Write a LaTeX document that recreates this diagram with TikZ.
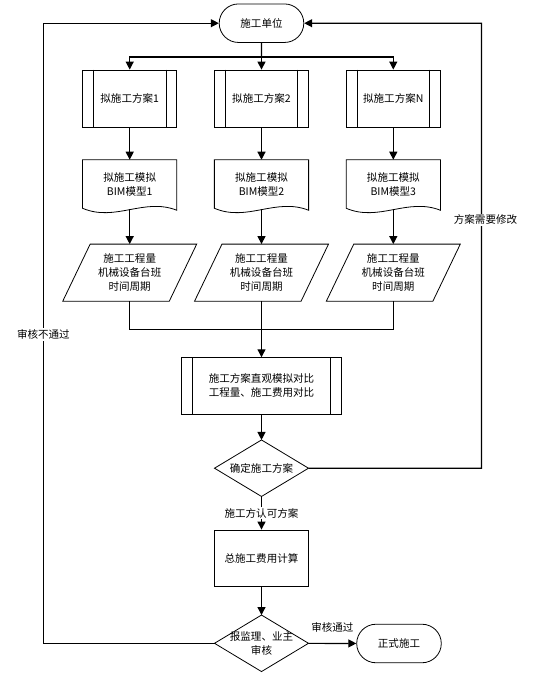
\documentclass[tikz,border=0pt]{standalone}
\usepackage{fontspec}
\setmainfont{Noto Sans CJK SC}
\usetikzlibrary{arrows.meta,shapes.misc}

\begin{document}
\begin{tikzpicture}[x=0.75pt,y=-0.75pt,
    every node/.style={font=\fontsize{7.9pt}{10.5pt}\selectfont, align=center},
    shape line/.style={line width=0.6pt},
    arr/.style={line width=0.9pt, -{Triangle[length=6pt,width=6pt]}},
    conn/.style={line width=0.9pt},
    term/.style={draw, shape line, rounded rectangle, minimum width=70.1pt, minimum height=28.9pt},
    proc/.style={draw, shape line, rectangle, minimum width=70.3pt, minimum height=42.75pt},
    docu/.style={rectangle, minimum width=70.3pt, minimum height=36.75pt},
    iobox/.style={rectangle, minimum width=100.1pt, minimum height=42.5pt},
    decide/.style={rectangle, minimum width=70.1pt, minimum height=42pt},
    lab/.style={fill=white, inner sep=1pt}]
    \useasboundingbox (0,0) rectangle (553,682);

            \node[term] (start) at (261.5,23.2) {施工单位};

            \node[proc] (p1) at (129.7,98.5) {拟施工方案1};
            \node[proc] (p2) at (261.5,98.5) {拟施工方案2};
            \node[proc] (p3) at (393.3,98.5) {拟施工方案N};

            \node[docu] (d1) at (129.7,184.5) {拟施工模拟\\BIM模型1};
            \node[docu] (d2) at (261.5,184.5) {拟施工模拟\\BIM模型2};
            \node[docu] (d3) at (393.3,184.5) {拟施工模拟\\BIM模型3};

            \node[iobox] (q1) at (129.7,272.7) {施工工程量\\机械设备台班\\时间周期};
            \node[iobox] (q2) at (261.5,272.7) {施工工程量\\机械设备台班\\时间周期};
            \node[iobox] (q3) at (393.3,272.7) {施工工程量\\机械设备台班\\时间周期};

            \node[proc, minimum width=119.5pt, minimum height=42.2pt] (cmp) at (261.5,385.8) {施工方案直观模拟对比\\工程量、施工费用对比};
            \node[decide] (dec1) at (261.5,468.2) {确定施工方案};
            \node[proc, minimum width=70.9pt, minimum height=42.5pt] (cost) at (261.5,558.3) {总施工费用计算};
            \node[decide] (dec2) at (261.5,643.3) {报监理、业主\\审核};
            \node[term] (fin) at (399,643.5) {正式施工};

            \coordinate (split) at (261.5,57);
            \coordinate (join) at (261.5,329.3);
            \coordinate (rloop) at (481.5,23.2);
            \coordinate (lloop) at (43.4,23.2);

            % outlines of the drawn shapes
            \foreach \n in {p1,p2,p3,cmp} {
                \draw[shape line] ([xshift=8.25pt]\n.north west) -- ([xshift=8.25pt]\n.south west);
                \draw[shape line] ([xshift=-8.25pt]\n.north east) -- ([xshift=-8.25pt]\n.south east);
            }
            \foreach \n in {d1,d2,d3}
                \draw[shape line] ([yshift=0.75pt]\n.south west) -- (\n.north west) -- (\n.north east)
                    -- ([yshift=-0.75pt]\n.south east)
                    .. controls ([xshift=-24.6pt,yshift=9pt]\n.south east) and ([xshift=24.6pt,yshift=-9.75pt]\n.south west)
                    .. ([yshift=0.75pt]\n.south west) -- cycle;
            \foreach \n in {q1,q2,q3}
                \draw[shape line] (\n.south west) -- ([xshift=20.6pt]\n.north west) -- (\n.north east)
                    -- ([xshift=-20.6pt]\n.south east) -- cycle;
            \foreach \n in {dec1,dec2}
                \draw[shape line] (\n.north) -- (\n.east) -- (\n.south) -- (\n.west) -- cycle;

            \draw[conn] (start) -- (split);
            \draw[arr] (split) -| (p1);
            \draw[arr] (split) -- (p2);
            \draw[arr] (split) -| (p3);

            \draw[arr] (p1) -- (d1);
            \draw[arr] (p2) -- (d2);
            \draw[arr] (p3) -- (d3);
            \draw[arr] (d1) -- (q1);
            \draw[arr] (d2) -- (q2);
            \draw[arr] (d3) -- (q3);

            \draw[conn] (q1) |- (join);
            \draw[conn] (q3) |- (join);
            \draw[arr] (q2) -- (cmp);
            \draw[arr] (cmp) -- (dec1);
            \draw[arr] (dec1) -- node[lab] {施工方认可方案} (cost);
            \draw[arr] (cost) -- (dec2);
            \draw[arr] (dec2) -- node[above=7pt, inner sep=1pt] {审核通过} (fin);

            \draw[arr] (dec1) -| node[lab, pos=0.779, xshift=3pt] {方案需要修改} (rloop) -- (start);
            \draw[arr] (dec2) -| node[lab, pos=0.749] {审核不通过} (lloop) -- (start);
        \end{tikzpicture}
\end{document}
